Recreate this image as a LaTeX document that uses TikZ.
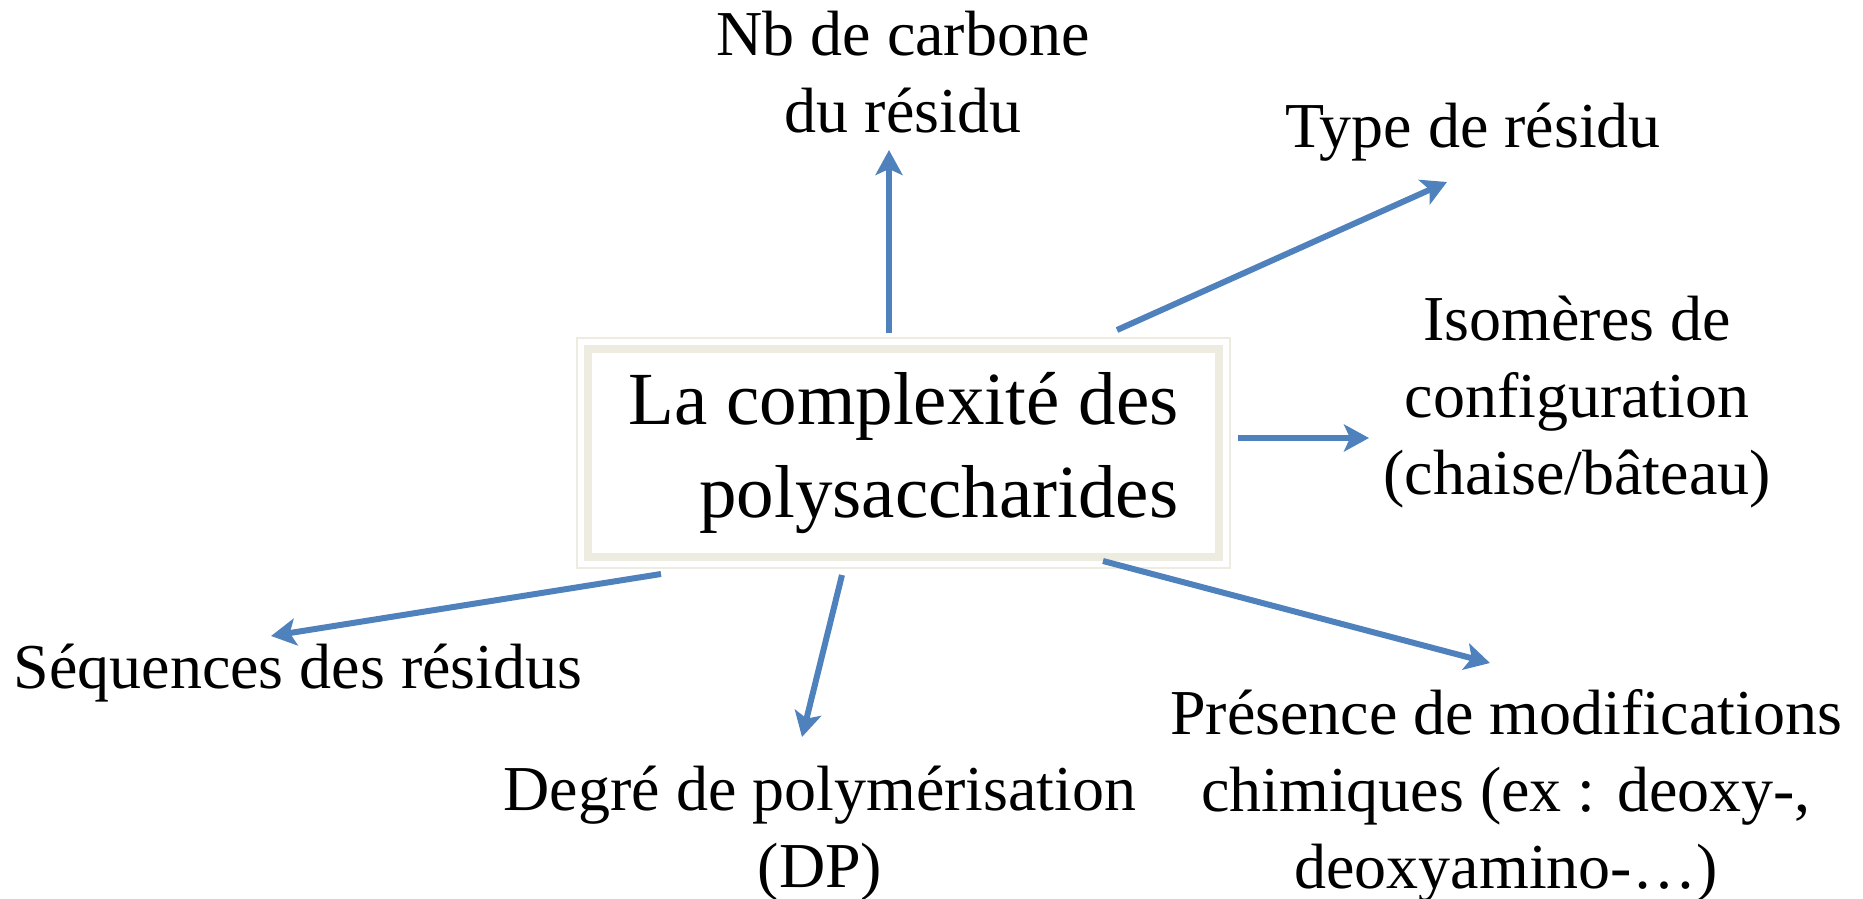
\documentclass[tikz,border=0pt]{standalone}
\usepackage{fontspec}
\setmainfont{Liberation Serif}
\usetikzlibrary{arrows.meta,calc,positioning}
\definecolor{bleu}{HTML}{4F81BD}
\definecolor{beige}{HTML}{EEECE1}

\begin{document}
\begin{tikzpicture}[x=0.5pt,y=-0.5pt,
    fleche/.style={-{Stealth[length=12.5pt,width=13.5pt,inset=3pt]},line width=3pt,bleu},
    etiquette/.style={align=center,inner sep=0pt,font=\fontsize{32}{38.5}\selectfont}]
    \useasboundingbox (0,0) rectangle (1863,899);
    % Boite centrale
    \node[draw=beige,line width=4pt,minimum width=315.5pt,minimum height=103.75pt,
          align=right,font=\fontsize{37.5}{46.5}\selectfont] (centre) at (903.5,453)
          {La complexité des\\polysaccharides};
    \draw[beige,line width=1pt] ([shift={(-7,-7)}]centre.north west)
          rectangle ([shift={(7,7)}]centre.south east);
    % Les aspects autour
    \node[etiquette] (carbone) at (903,72) {Nb de carbone\\du résidu};
    \node[etiquette] (type) at (1473,132) {Type de résidu};
    \node[etiquette] (isomeres) at (1577,402) {Isomères de\\configuration\\(chaise/bâteau)};
    \node[etiquette] (sequences) at (298,673) {Séquences des résidus};
    \node[etiquette] (degre) at (820,834) {Degré de polymérisation\\(DP)};
    \node[etiquette] (presence) at (1506,796) {Présence de modifications\\chimiques (ex : deoxy-,\\deoxyamino-…)};
    % Fleches
    \coordinate (d1) at (889,333);  \coordinate (f1) at (889,150);
    \coordinate (d2) at (1117,330); \coordinate (f2) at (1447,182);
    \coordinate (d3) at (1238,438); \coordinate (f3) at (1369,438);
    \coordinate (d4) at (661,574);  \coordinate (f4) at (271,636);
    \coordinate (d5) at (842,575);  \coordinate (f5) at (802,737);
    \coordinate (d6) at (1103,561); \coordinate (f6) at (1490,663);
    \foreach \i in {1,...,6}
        \draw[fleche] (d\i) -- (f\i);
\end{tikzpicture}
\end{document}
